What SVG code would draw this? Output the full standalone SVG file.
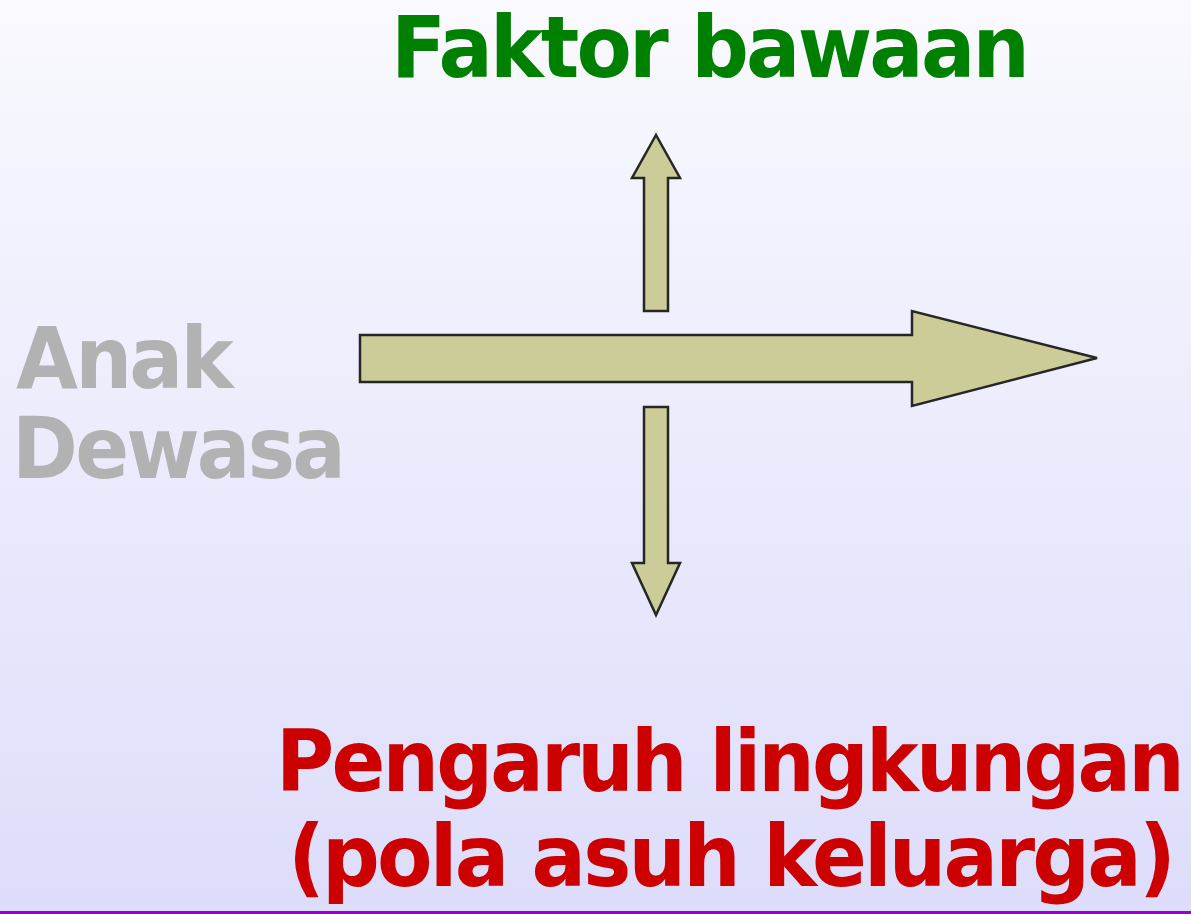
<svg xmlns="http://www.w3.org/2000/svg" width="1191" height="914" viewBox="0 0 1191 914">
<defs>
<linearGradient id="bg" x1="0" y1="0" x2="0" y2="1">
<stop offset="0" stop-color="#F9F9FE"/>
<stop offset="1" stop-color="#DDDDFB"/>
</linearGradient>
<style>
.arrow{fill:#CCCC99;stroke:#262626;stroke-width:2.5;stroke-linejoin:miter}
.t{font-family:"DejaVu Sans",Verdana,sans-serif;font-weight:bold;letter-spacing:-3px}
</style>
</defs>
<rect x="0" y="0" width="1191" height="914" fill="url(#bg)"/>
<g id="connectors">
<polygon class="arrow" points="360,335 912,335 912,311 1097,358 912,406 912,382 360,382"/>
<polygon class="arrow" points="644,311 644,178 632,178 656,135 680,178 668,178 668,311"/>
<polygon class="arrow" points="644,407 668,407 668,563 680,563 656,615 632,563 644,563"/>
</g>
<g id="faktor">
<text class="t" x="391" y="77" font-size="85" fill="#008000" textLength="636" lengthAdjust="spacingAndGlyphs">Faktor bawaan</text>
</g>
<g id="anak-dewasa">
<text class="t" x="16" y="388" font-size="86" fill="#B2B2B2" textLength="215" lengthAdjust="spacingAndGlyphs">Anak</text>
<text class="t" x="12" y="478" font-size="86" fill="#B2B2B2" textLength="331" lengthAdjust="spacingAndGlyphs">Dewasa</text>
</g>
<g id="pengaruh">
<text class="t" x="276" y="791" font-size="85" fill="#CC0000" textLength="906" lengthAdjust="spacingAndGlyphs">Pengaruh lingkungan</text>
<text class="t" x="288" y="886" font-size="85" fill="#CC0000" textLength="885" lengthAdjust="spacingAndGlyphs">(pola asuh keluarga)</text>
</g>
<rect x="0" y="911" width="1191" height="3" fill="#9900CC"/>
</svg>
